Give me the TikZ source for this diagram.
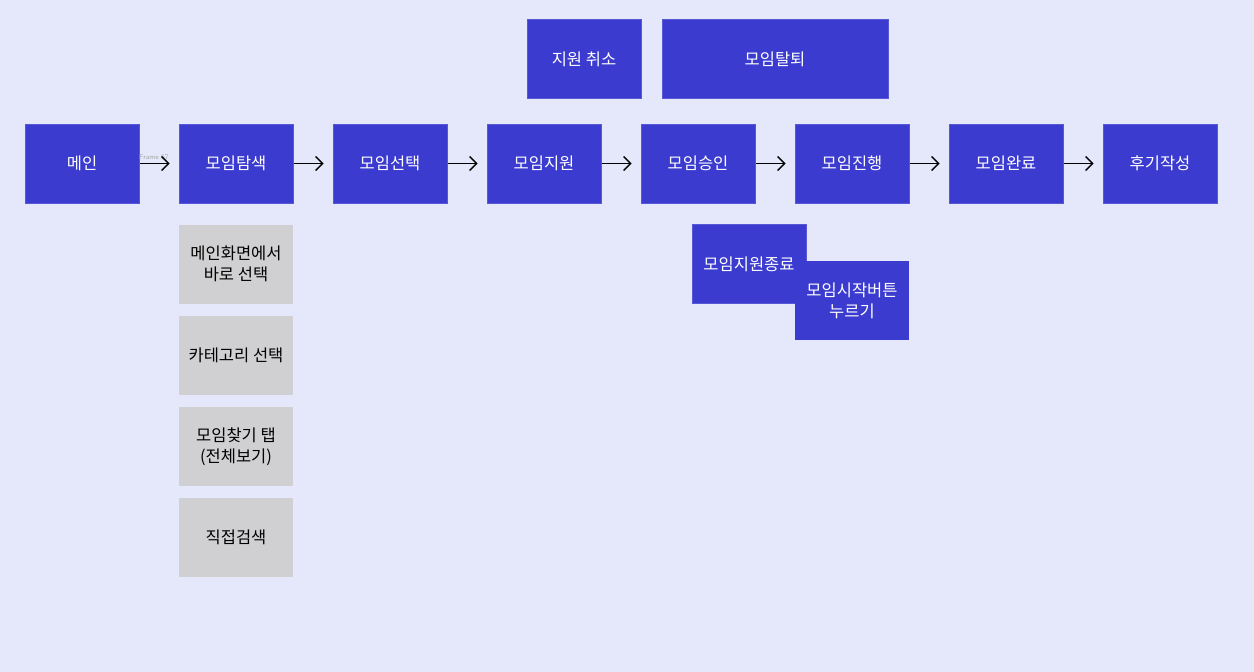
\documentclass[tikz,border=0pt]{standalone}
\usepackage{fontspec}
\newfontfamily\kr{Noto Sans CJK KR}
\usetikzlibrary{arrows.meta}
\definecolor{bgc}{HTML}{E4E8FA}
\definecolor{bluebox}{HTML}{3B3BCF}
\definecolor{graybox}{HTML}{D0CFD1}
\tikzset{
  bbox/.style={fill=bluebox, draw=bluebox!85!white, line width=0.6pt, text=white, minimum width=114pt, minimum height=79pt, inner sep=0pt, align=center, font=\kr\fontsize{16.5}{21}\selectfont},
  gbox/.style={fill=graybox, draw=none, text=black, minimum width=114pt, minimum height=79pt, inner sep=0pt, align=center, font=\kr\fontsize{16.5}{21}\selectfont},
  flow/.style={-{Straight Barb[length=7pt,width=14pt]}, line width=1.4pt, black},
}
\begin{document}
\begin{tikzpicture}[x=1pt,y=-1pt]
\useasboundingbox[fill=bgc] (0,0) rectangle (1254,672);
% main row
\node[bbox] (n1) at (82,163.5) {메인};
\node[bbox] (n2) at (236,163.5) {모임탐색};
\node[bbox] (n3) at (390,163.5) {모임선택};
\node[bbox] (n4) at (544,163.5) {모임지원};
\node[bbox] (n5) at (698,163.5) {모임승인};
\node[bbox] (n6) at (852,163.5) {모임진행};
\node[bbox] (n7) at (1006,163.5) {모임완료};
\node[bbox] (n8) at (1160,163.5) {후기작성};
% top
\node[bbox] (c1) at (584,59) {지원 취소};
\node[bbox, minimum width=226pt] (c2) at (775,59) {모임탈퇴};
% gray
\node[gbox] (g1) at (236,264) {메인화면에서\\바로 선택};
\node[gbox] (g2) at (236,355.5) {카테고리 선택};
\node[gbox] (g3) at (236,446.5) {모임찾기 탭\\(전체보기)};
\node[gbox] (g4) at (236,537.5) {직접검색};
% overlapping
\node[bbox] (e1) at (749,264) {모임지원종료};
\node[bbox, draw=none] (e2) at (852,300.5) {모임시작버튼\\누르기};
% faint label
\node[font=\sffamily\fontsize{7}{8}\selectfont, text=gray!70, anchor=west, inner sep=0pt] (fl) at (139,157) {Frame 67};
% arrows
\foreach \a/\b in {n1/n2,n2/n3,n3/n4,n4/n5,n5/n6,n6/n7,n7/n8}
  \draw[flow] ([xshift=1pt]\a.east) -- ([xshift=-9pt]\b.west);
\end{tikzpicture}
\end{document}
